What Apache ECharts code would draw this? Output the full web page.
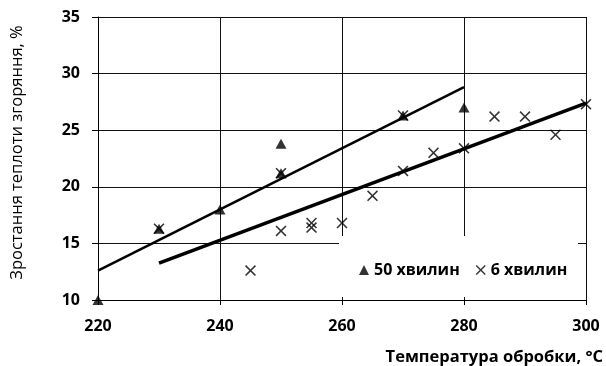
<!DOCTYPE html>
<html><head><meta charset="utf-8">
<script src="https://cdn.jsdelivr.net/npm/echarts@6/dist/echarts.min.js"></script>
<style>html,body{margin:0;padding:0;background:#fff}#c{width:606px;height:366px}</style>
</head><body><div id="c"></div>
<script>
const xTicks = [220, 240, 260, 280, 300];
const yTicks = [10, 15, 20, 25, 30, 35];
const series50Name = '50 хвилин';
const series6Name = '6 хвилин';
const data50 = [[220, 10], [230, 16.3], [240, 18], [250, 23.8], [250, 21.2], [270, 26.3], [280, 27]];
const data6 = [[230, 16.3], [245, 12.6], [250, 21.2], [250, 16.1], [255, 16.4], [255, 16.8], [260, 16.8], [265, 19.2], [270, 21.4], [270, 26.3], [275, 23], [280, 23.4], [285, 26.2], [290, 26.2], [295, 24.6], [300, 27.3]];
const trend50 = [[220, 12.6], [280, 28.8]];
const trend6 = [[230, 13.25], [300, 27.4]];
const xTitle = 'Температура обробки, °C';
const yTitle = 'Зростання теплоти згоряння, %';

const FONT = '"Open Sans", "Noto Sans", sans-serif';
const crossPath = 'path://M1,0L5,4L9,0L10,1L6,5L10,9L9,10L5,6L1,10L0,9L4,5L0,1Z';

const chart = echarts.init(document.getElementById('c'), null, {renderer: 'canvas'});
chart.setOption({
  animation: false,
  backgroundColor: '#fff',
  grid: {left: 98, right: 20, top: 17, bottom: 66, containLabel: false},
  xAxis: {
    type: 'value', min: xTicks[0], max: xTicks[xTicks.length - 1], interval: 20,
    axisLine: {show: true, lineStyle: {color: '#000', width: 1}},
    axisTick: {show: true, length: 5, lineStyle: {color: '#000'}},
    splitLine: {show: true, lineStyle: {color: '#111', width: 1}},
    axisLabel: {color: '#000', fontFamily: FONT, fontWeight: 'bold', fontSize: 16, margin: 18},
    name: xTitle, nameLocation: 'end', nameGap: 17,
    nameTextStyle: {color: '#000', fontFamily: FONT, fontWeight: 'bold', fontSize: 16.5, align: 'right', verticalAlign: 'top', padding: [49, 0, 0, 0]}
  },
  yAxis: {
    type: 'value', min: yTicks[0], max: yTicks[yTicks.length - 1], interval: 5,
    axisLine: {show: true, lineStyle: {color: '#000', width: 1}},
    axisTick: {show: true, length: 6, lineStyle: {color: '#000'}},
    splitLine: {show: true, lineStyle: {color: '#111', width: 1}},
    axisLabel: {color: '#000', fontFamily: FONT, fontWeight: 'bold', fontSize: 16, margin: 18},
    name: yTitle, nameLocation: 'middle', nameGap: 72, nameRotate: 90,
    nameTextStyle: {color: '#000', fontFamily: FONT, fontSize: 16.5, padding: [0, 0, 0, 12]}
  },
  graphic: [{type: 'rect', left: 339, top: 236, z: 10, shape: {width: 239, height: 61}, style: {fill: '#fff'}}],
  legend: {
    z: 20, left: 354, top: 257, itemGap: 16, itemWidth: 10, itemHeight: 10,
    textStyle: {color: '#000', fontFamily: FONT, fontWeight: 'bold', fontSize: 16},
    data: [series50Name, series6Name]
  },
  series: [
    {type: 'line', data: trend50, symbol: 'none', lineStyle: {color: '#000', width: 2.5}, z: 3, silent: true},
    {type: 'line', data: trend6, symbol: 'none', lineStyle: {color: '#000', width: 3.5}, z: 3, silent: true},
    {name: series50Name, type: 'scatter', data: data50, symbol: 'triangle', symbolSize: [11, 10], itemStyle: {color: '#000'}, z: 4},
    {name: series6Name, type: 'scatter', data: data6, symbol: crossPath, symbolSize: 11, itemStyle: {color: '#000'}, z: 5}
  ]
});
</script></body></html>
